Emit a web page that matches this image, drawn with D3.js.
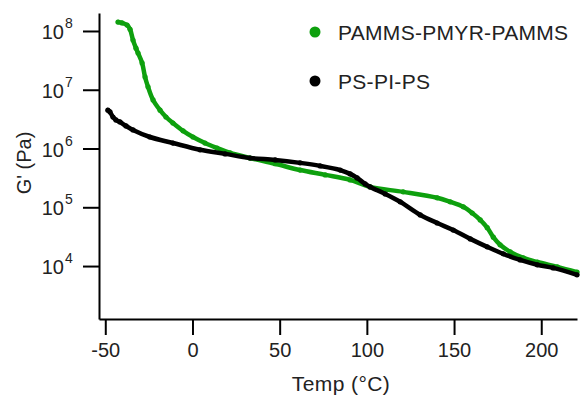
<!DOCTYPE html>
<html>
<head>
<meta charset="utf-8">
<script src="https://cdn.jsdelivr.net/npm/d3@7"></script>
<style>
  body { margin: 0; background: #fff; }
  text { font-family: "Liberation Sans", Arial, sans-serif; fill: #222; }
</style>
</head>
<body>
<svg id="chart" width="580" height="397"></svg>
<script>
// PAMMS-PMYR-PAMMS
const greenTemp = [-42.7, -40.4, -37.5, -35.8, -34.1, -32.4, -31.2, -28.9, -27.2, -25.5, -22.6, -18.6, -15.2, -11.2, -5.4, 0.3, 7.2, 14.1, 21.6, 33, 47.4, 61.7, 76.1, 90.4, 101.9, 120.8, 140.3, 147.8, 155.3, 160.4, 165, 169, 172.5, 176.4, 182.2, 189.7, 197.7, 209.2, 220.5];
const greenG = [1.42e8, 1.37e8, 1.26e8, 1.07e8, 7.0e7, 5.1e7, 4.2e7, 2.86e7, 1.65e7, 1.12e7, 6.7e6, 4.5e6, 3.44e6, 2.72e6, 2.0e6, 1.57e6, 1.24e6, 1.02e6, 8.4e5, 6.9e5, 5.5e5, 4.3e5, 3.56e5, 2.92e5, 2.22e5, 1.83e5, 1.45e5, 1.24e5, 1.02e5, 8.0e4, 6.1e4, 4.5e4, 3.1e4, 2.3e4, 1.74e4, 1.38e4, 1.17e4, 9.7e3, 7.9e3];

// PS-PI-PS
const blackTemp = [-48.5, -47.3, -45.6, -43.9, -41.6, -38.1, -34.1, -24.4, -11.2, 4.3, 18.7, 33, 47.4, 61.7, 73.2, 84.7, 90.4, 94.4, 99, 101.9, 110.5, 119.1, 130.6, 140.3, 149.5, 159.3, 169, 178.2, 187.9, 197.7, 206.8, 220.5];
const blackG = [4.5e6, 4.2e6, 3.44e6, 3.06e6, 2.83e6, 2.42e6, 2.07e6, 1.57e6, 1.24e6, 9.5e5, 8.1e5, 6.9e5, 6.4e5, 5.7e5, 5.06e5, 4.3e5, 3.7e5, 3.16e5, 2.5e5, 2.22e5, 1.69e5, 1.24e5, 7.4e4, 5.4e4, 4.1e4, 2.9e4, 2.12e4, 1.61e4, 1.27e4, 1.05e4, 9.3e3, 7.1e3];

const xTicks = [-50, 0, 50, 100, 150, 200];
const yExps = [4, 5, 6, 7, 8];
const seriesNames = ["PAMMS-PMYR-PAMMS", "PS-PI-PS"];
const seriesColors = ["#0ea00e", "#000000"];

const svg = d3.select('#chart');
const plot = {left: 99, right: 577, top: 13, bottom: 319};

const x = d3.scaleLinear().domain([-53.6, 220.5]).range([plot.left, plot.right]);
const y = d3.scaleLog().domain([Math.pow(10, 3.099), Math.pow(10, 8.306)]).range([plot.bottom, plot.top]);

// axes
const xAxis = d3.axisBottom(x)
    .tickValues(xTicks)
    .tickFormat(d => String(d))
    .tickSize(16)
    .tickPadding(8)
    .tickSizeOuter(0);
const xg = svg.append('g').attr('transform', `translate(0,${plot.bottom})`).call(xAxis);
xg.selectAll('line, path').attr('stroke', '#000').attr('stroke-width', 2);
xg.selectAll('text').attr('font-size', 20).attr('font-family', '"Liberation Sans", Arial, sans-serif').attr('fill', '#222');

const yAxis = d3.axisLeft(y).tickValues(yExps.map(e => Math.pow(10, e))).tickSize(16).tickFormat('').tickSizeOuter(0);
const yg = svg.append('g').attr('transform', `translate(${plot.left},0)`).call(yAxis);
yg.selectAll('line, path').attr('stroke', '#000').attr('stroke-width', 2);

// y tick labels as 10 with superscript
yExps.forEach(e => {
    svg.append('text')
        .attr('x', 64)
        .attr('y', y(Math.pow(10, e)) + 8)
        .attr('text-anchor', 'end')
        .attr('font-size', 20)
        .text('10');
    svg.append('text')
        .attr('x', 65)
        .attr('y', y(Math.pow(10, e)) - 3)
        .attr('font-size', 14)
        .text(e);
});

// axis titles
svg.append('text')
    .attr('x', 341)
    .attr('y', 391)
    .attr('text-anchor', 'middle')
    .attr('font-size', 21)
    .attr('letter-spacing', 0.4)
    .text('Temp (°C)');

svg.append('text')
    .attr('transform', 'translate(31,163) rotate(-90)')
    .attr('text-anchor', 'middle')
    .attr('font-size', 20)
    .text("G' (Pa)");

// series
const line = d3.line()
    .x(d => x(d[0]))
    .y(d => y(d[1]))
    .curve(d3.curveCatmullRom);

const series = [
    d3.zip(greenTemp, greenG),
    d3.zip(blackTemp, blackG)
];

series.forEach((pts, i) => {
    svg.append('path')
        .datum(pts)
        .attr('d', line)
        .attr('fill', 'none')
        .attr('stroke', seriesColors[i])
        .attr('stroke-width', 4.5)
        .attr('stroke-linecap', 'round');
    svg.selectAll(null)
        .data(pts)
        .join('circle')
        .attr('cx', d => x(d[0]))
        .attr('cy', d => y(d[1]))
        .attr('r', 2.6)
        .attr('fill', seriesColors[i]);
});

// legend
seriesNames.forEach((name, i) => {
    const ly = 32 + i * 49;
    svg.append('circle')
        .attr('cx', 315)
        .attr('cy', ly)
        .attr('r', 5.5)
        .attr('fill', seriesColors[i]);
    svg.append('text')
        .attr('x', 338)
        .attr('y', ly + 7.5)
        .attr('font-size', 21)
        .attr('letter-spacing', 0.3)
        .text(name);
});
</script>
</body>
</html>
